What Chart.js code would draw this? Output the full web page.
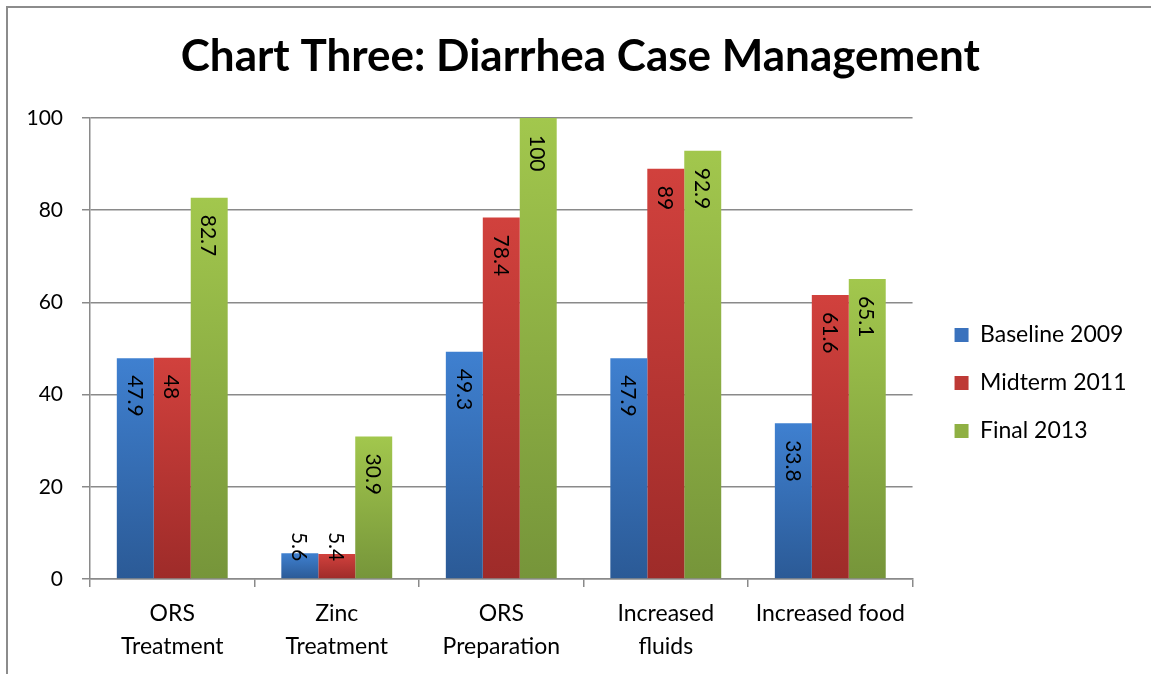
<!DOCTYPE html>
<html>
<head>
<meta charset="utf-8">
<script src="https://cdn.jsdelivr.net/npm/chart.js@4.4.1/dist/chart.umd.min.js"></script>
<style>
  html, body { margin: 0; padding: 0; background: #ffffff; overflow: hidden; }
  #frame { position: absolute; left: 6px; top: 6px; width: 2000px; height: 2000px;
           border-left: 2px solid #8c8c8c; border-top: 2px solid #8c8c8c; }
  #wrap { position: absolute; left: 0; top: 0; width: 1151px; height: 674px; }
</style>
</head>
<body>
<div id="frame"></div>
<div id="wrap"><canvas id="c" width="1151" height="674"></canvas></div>
<script>
const titleText = "Chart Three: Diarrhea Case Management";
const categories = [["ORS", "Treatment"], ["Zinc", "Treatment"], ["ORS", "Preparation"], ["Increased", "fluids"], "Increased food"];
const seriesNames = ["Baseline 2009", "Midterm 2011", "Final 2013"];
const baseline2009 = [47.9, 5.6, 49.3, 47.9, 33.8];
const midterm2011 = [48, 5.4, 78.4, 89, 61.6];
const final2013 = [82.7, 30.9, 100, 92.9, 65.1];
const yMin = 0, yMax = 100, yStep = 20;

const FONT = "Lato, 'Open Sans', sans-serif";
const gradStops = [
  ["#3f80d0", "#2b5a96", "#3a72bd"],
  ["#d1413d", "#9e2b29", "#be3a36"],
  ["#a2c74d", "#76953a", "#8fb043"]
];

function barGradient(idx) {
  return function(ctx) {
    const chart = ctx.chart;
    const area = chart.chartArea;
    if (!area || ctx.type !== 'data') return gradStops[idx][2];
    const ys = chart.scales.y;
    const top = ys.getPixelForValue(ctx.raw);
    const base = ys.getPixelForValue(0);
    if (!isFinite(top) || Math.abs(base - top) < 1) return gradStops[idx][0];
    const g = chart.ctx.createLinearGradient(0, top, 0, base);
    g.addColorStop(0, gradStops[idx][0]);
    g.addColorStop(1, gradStops[idx][1]);
    return g;
  };
}

const dataLabels = {
  id: 'dataLabels',
  afterDatasetsDraw(chart) {
    const ctx = chart.ctx;
    ctx.save();
    ctx.font = "21px " + FONT;
    ctx.fillStyle = "#000000";
    ctx.textAlign = "left";
    ctx.textBaseline = "middle";
    chart.data.datasets.forEach((ds, di) => {
      const meta = chart.getDatasetMeta(di);
      meta.data.forEach((el, i) => {
        const txt = String(ds.data[i]);
        const w = ctx.measureText(txt).width;
        const start = Math.min(el.y + 17, el.base - 17 - w);
        ctx.save();
        ctx.translate(el.x, start);
        ctx.rotate(Math.PI / 2);
        ctx.fillText(txt, 0, 1);
        ctx.restore();
      });
    });
    ctx.restore();
  }
};

const ds = [baseline2009, midterm2011, final2013].map((vals, i) => ({
  label: seriesNames[i],
  data: vals,
  backgroundColor: barGradient(i),
  borderWidth: 0,
  categoryPercentage: 0.674,
  barPercentage: 1.0,
  yAxisID: 'y'
}));

new Chart(document.getElementById('c'), {
  type: 'bar',
  data: { labels: categories, datasets: ds },
  plugins: [dataLabels],
  options: {
    responsive: false,
    animation: false,
    devicePixelRatio: 1,
    layout: { padding: { left: 24, right: 14.5, top: 0, bottom: 0 } },
    plugins: {
      title: {
        display: true,
        text: titleText,
        color: "#000000",
        font: { family: FONT, size: 44, weight: 'bold', lineHeight: 1.2 },
        padding: { top: 30, bottom: 35.2 }
      },
      legend: {
        position: 'right',
        align: 'center',
        fullSize: false,
        maxWidth: 400,
        title: { display: true, text: ' ', padding: 0, font: { size: 10, lineHeight: 6.9 } },
        labels: {
          color: "#000000",
          font: { family: FONT, size: 23 },
          boxWidth: 14,
          boxHeight: 14,
          padding: 25,
          generateLabels(chart) {
            return chart.data.datasets.map((d, i) => ({
              text: d.label,
              fillStyle: gradStops[i][2],
              strokeStyle: gradStops[i][2],
              lineWidth: 0,
              hidden: false,
              datasetIndex: i,
              fontColor: "#000000"
            }));
          }
        }
      },
      tooltip: { enabled: false }
    },
    scales: {
      x: {
        grid: { display: true, drawOnChartArea: false, drawTicks: true, tickLength: 8, color: "#8a8a8a", lineWidth: 1.5, offset: true },
        border: { display: true, color: "#8a8a8a", width: 1.5 },
        ticks: { color: "#000000", font: { family: FONT, size: 23, lineHeight: 1.435 }, padding: 10.5, maxRotation: 0, autoSkip: false },
        afterFit(scale) { scale.height = 95; }
      },
      y: {
        position: 'left',
        min: yMin,
        max: yMax,
        grid: { color: "#8a8a8a", lineWidth: 1.5, tickLength: 8, drawTicks: true },
        border: { display: true, color: "#8a8a8a", width: 1.5 },
        ticks: { stepSize: yStep, color: "#000000", font: { family: FONT, size: 21 }, padding: 19 },
        afterFit(scale) { scale.width = 66; }
      },
      gap: {
        type: 'linear',
        position: 'right',
        min: 0,
        max: 1,
        display: true,
        grid: { display: false, drawOnChartArea: false },
        border: { display: false },
        ticks: { display: false },
        afterFit(scale) { scale.width = 17; }
      }
    }
  }
});
</script>
</body>
</html>
